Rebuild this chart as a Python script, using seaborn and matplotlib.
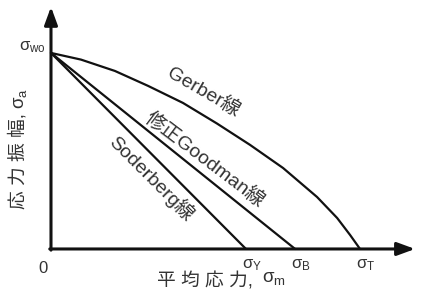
import pandas as pd
import seaborn as sns
import matplotlib.pyplot as plt

# Stress values (normalised, sigma_T = sigma_wo = 1)
sigma_wo = 1.0
sigma_y = 0.631
sigma_b = 0.790
sigma_t = 1.0

# Gerber curve
gerber_x = [0.0, 0.097, 0.207, 0.314, 0.427, 0.537, 0.644, 0.751, 0.861, 0.926, 0.968, 1.0]
gerber_y = [1.0, 0.966, 0.908, 0.832, 0.745, 0.640, 0.531, 0.413, 0.265, 0.158, 0.071, 0.0]

line_names = ["Gerber線", "修正Goodman線", "Soderberg線"]
label_pos = {"Gerber線": (0.495, 0.800, -30),
             "修正Goodman線": (0.498, 0.454, -37),
             "Soderberg線": (0.324, 0.362, -45)}

rows = []
for x, y in zip(gerber_x, gerber_y):
    rows.append(("Gerber線", x, y))
rows += [("修正Goodman線", 0.0, sigma_wo), ("修正Goodman線", sigma_b, 0.0)]
rows += [("Soderberg線", 0.0, sigma_wo), ("Soderberg線", sigma_y, 0.0)]
df = pd.DataFrame(rows, columns=["line", "sigma_m", "sigma_a"])

sns.set_style("white")
plt.rcParams["font.family"] = ["Liberation Sans", "Noto Sans CJK JP"]
plt.rcParams["mathtext.fontset"] = "custom"
plt.rcParams["mathtext.rm"] = "Liberation Sans"

txt = "#333333"
fig = plt.figure(figsize=(4.24, 2.97), dpi=100)
ax = fig.add_axes([0, 0, 1, 1])
ax.set_xlim(-0.165, 1.207)
ax.set_ylim(-0.245, 1.270)
ax.axis("off")

sns.lineplot(data=df, x="sigma_m", y="sigma_a", hue="line", units="line",
             palette={n: "#111111" for n in line_names}, sort=False,
             estimator=None, legend=False, linewidth=1.6, ax=ax)

# axes with arrow heads
arrow = dict(arrowstyle="-|>,head_length=0.6,head_width=0.22", mutation_scale=18,
             lw=2.2, color="#111111", shrinkA=0, shrinkB=0)
ax.annotate("", xy=(0, 1.235), xytext=(0, -0.006), arrowprops=arrow)
ax.annotate("", xy=(1.178, 0), xytext=(-0.004, 0), arrowprops=arrow)

# line labels
for name in line_names:
    x, y, rot = label_pos[name]
    ax.text(x, y, name, rotation=rot, rotation_mode="anchor", ha="center",
            va="center", fontsize=14, color=txt)

# stress marks
marks = [(sigma_y, "Y"), (sigma_b, "B"), (sigma_t, "T")]
for xv, sub in marks:
    ax.annotate(r"$\mathregular{σ_{%s}}$" % sub, xy=(xv, 0), xytext=(-3, -6),
                textcoords="offset points", ha="left", va="top",
                fontsize=12, color=txt)
ax.annotate(r"$\mathregular{σ_{wo}}$", xy=(0, sigma_wo), xytext=(-23, 4),
            textcoords="offset points", ha="left", va="center",
            fontsize=12, color=txt)
ax.annotate("0", xy=(0, 0), xytext=(-6, -9), textcoords="offset points",
            ha="center", va="top", fontsize=12, color=txt)

# axis titles
ax.text(0.498, -0.165, "平 均 応 力,", ha="center", va="center", fontsize=13.5, color=txt)
ax.text(0.722, -0.152, r"$\mathregular{σ_m}$", ha="center", va="center", fontsize=13.5, color=txt)
ax.text(-0.107, 0.45, "応 力 振 幅,", rotation=90, ha="center", va="center", fontsize=13.5, color=txt)
ax.text(-0.100, 0.77, r"$\mathregular{σ_a}$", rotation=90, ha="center", va="center", fontsize=13.5, color=txt)

fig.savefig("out.png", dpi=100)
